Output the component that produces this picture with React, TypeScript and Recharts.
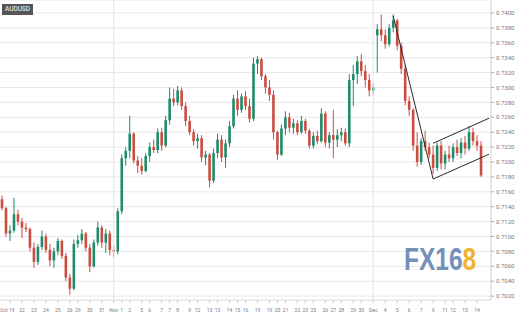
import React from "react";
import { ComposedChart, Bar, XAxis, YAxis, CartesianGrid, ReferenceLine } from "recharts";

// AUDUSD 4h candles, Oct 19 - Dec 14
const OPEN = [
  0.7150, 0.7138, 0.7104, 0.7108, 0.7130, 0.7120, 0.7112, 0.7110, 0.7085, 0.7066,
  0.7086, 0.7100, 0.7082, 0.7068, 0.7080, 0.7094, 0.7074, 0.7045, 0.7030, 0.7090,
  0.7095, 0.7104, 0.7085, 0.7060, 0.7092, 0.7112, 0.7092, 0.7104, 0.7082, 0.7080,
  0.7134, 0.7205, 0.7215, 0.7238, 0.7202, 0.7195, 0.7188, 0.7208, 0.7220, 0.7216,
  0.7240, 0.7222, 0.7256, 0.7285, 0.7280, 0.7296, 0.7275, 0.7255, 0.7240, 0.7228,
  0.7232, 0.7206, 0.7210, 0.7175, 0.7212, 0.7230, 0.7206, 0.7225, 0.7248, 0.7285,
  0.7270, 0.7288, 0.7275, 0.7258, 0.7332, 0.7338, 0.7315, 0.7300, 0.7290, 0.7240,
  0.7210, 0.7245, 0.7260, 0.7246, 0.7252, 0.7240, 0.7255, 0.7242, 0.7222, 0.7235,
  0.7228, 0.7265, 0.7226, 0.7236, 0.7230, 0.7236, 0.7240, 0.7225, 0.7310, 0.7318,
  0.7335, 0.7322, 0.7310, 0.7296, 0.7370, 0.7378, 0.7370, 0.7358, 0.7380, 0.7390,
  0.7356, 0.7325, 0.7282, 0.7270, 0.7222, 0.7200, 0.7228, 0.7220, 0.7210, 0.7192,
  0.7222, 0.7198, 0.7210, 0.7205, 0.7220, 0.7212, 0.7226, 0.7218, 0.7240, 0.7228,
  0.7222,
];
const HIGH = [
  0.7155, 0.7140, 0.7115, 0.7152, 0.7136, 0.7125, 0.7118, 0.7112, 0.7092, 0.7090,
  0.7108, 0.7104, 0.7090, 0.7085, 0.7098, 0.7096, 0.7078, 0.7050, 0.7096, 0.7102,
  0.7110, 0.7106, 0.7090, 0.7096, 0.7120, 0.7115, 0.7110, 0.7108, 0.7088, 0.7138,
  0.7210, 0.7220, 0.7262, 0.7240, 0.7208, 0.7205, 0.7212, 0.7226, 0.7230, 0.7245,
  0.7246, 0.7262, 0.7300, 0.7298, 0.7302, 0.7300, 0.7280, 0.7262, 0.7244, 0.7238,
  0.7236, 0.7215, 0.7212, 0.7218, 0.7238, 0.7236, 0.7230, 0.7255, 0.7290, 0.7296,
  0.7292, 0.7295, 0.7285, 0.7340, 0.7342, 0.7340, 0.7318, 0.7310, 0.7296, 0.7242,
  0.7250, 0.7268, 0.7266, 0.7258, 0.7256, 0.7262, 0.7258, 0.7244, 0.7240, 0.7242,
  0.7272, 0.7268, 0.7240, 0.7270, 0.7244, 0.7246, 0.7245, 0.7318, 0.7330, 0.7342,
  0.7345, 0.7330, 0.7318, 0.7305, 0.7385, 0.7398, 0.7378, 0.7385, 0.7398, 0.7392,
  0.7360, 0.7330, 0.7288, 0.7272, 0.7240, 0.7232, 0.7242, 0.7226, 0.7222, 0.7226,
  0.7228, 0.7215, 0.7222, 0.7225, 0.7230, 0.7232, 0.7235, 0.7248, 0.7246, 0.7236,
  0.7228,
];
const LOW = [
  0.7135, 0.7100, 0.7094, 0.7105, 0.7115, 0.7098, 0.7106, 0.7080, 0.7058, 0.7062,
  0.7082, 0.7078, 0.7060, 0.7058, 0.7075, 0.7070, 0.7040, 0.7022, 0.7028, 0.7085,
  0.7090, 0.7080, 0.7052, 0.7058, 0.7088, 0.7085, 0.7078, 0.7075, 0.7072, 0.7076,
  0.7130, 0.7195, 0.7205, 0.7198, 0.7185, 0.7183, 0.7186, 0.7200, 0.7212, 0.7212,
  0.7215, 0.7220, 0.7250, 0.7275, 0.7276, 0.7270, 0.7248, 0.7236, 0.7222, 0.7218,
  0.7200, 0.7196, 0.7166, 0.7172, 0.7205, 0.7200, 0.7192, 0.7220, 0.7245, 0.7262,
  0.7266, 0.7270, 0.7253, 0.7255, 0.7318, 0.7310, 0.7292, 0.7282, 0.7230, 0.7203,
  0.7208, 0.7236, 0.7240, 0.7238, 0.7236, 0.7238, 0.7238, 0.7218, 0.7218, 0.7224,
  0.7226, 0.7220, 0.7218, 0.7205, 0.7220, 0.7228, 0.7222, 0.7220, 0.7275, 0.7305,
  0.7315, 0.7300, 0.7288, 0.7290, 0.7320, 0.7362, 0.7352, 0.7355, 0.7374, 0.7350,
  0.7318, 0.7276, 0.7262, 0.7215, 0.7194, 0.7196, 0.7215, 0.7205, 0.7184, 0.7188,
  0.7190, 0.7190, 0.7200, 0.7200, 0.7208, 0.7205, 0.7210, 0.7215, 0.7222, 0.7215,
  0.7180,
];
const CLOSE = [
  0.7138, 0.7104, 0.7108, 0.7130, 0.7120, 0.7112, 0.7110, 0.7085, 0.7066, 0.7086,
  0.7100, 0.7082, 0.7068, 0.7080, 0.7094, 0.7074, 0.7045, 0.7030, 0.7090, 0.7095,
  0.7104, 0.7085, 0.7060, 0.7092, 0.7112, 0.7092, 0.7104, 0.7082, 0.7080, 0.7134,
  0.7205, 0.7215, 0.7238, 0.7202, 0.7195, 0.7188, 0.7208, 0.7220, 0.7216, 0.7240,
  0.7222, 0.7256, 0.7285, 0.7280, 0.7296, 0.7275, 0.7255, 0.7240, 0.7228, 0.7232,
  0.7206, 0.7210, 0.7175, 0.7212, 0.7230, 0.7206, 0.7225, 0.7248, 0.7285, 0.7270,
  0.7288, 0.7275, 0.7258, 0.7332, 0.7338, 0.7315, 0.7300, 0.7290, 0.7240, 0.7210,
  0.7245, 0.7260, 0.7246, 0.7252, 0.7240, 0.7255, 0.7242, 0.7222, 0.7235, 0.7228,
  0.7265, 0.7226, 0.7236, 0.7230, 0.7236, 0.7240, 0.7225, 0.7310, 0.7318, 0.7335,
  0.7322, 0.7310, 0.7296, 0.7300, 0.7378, 0.7370, 0.7358, 0.7380, 0.7390, 0.7356,
  0.7325, 0.7282, 0.7270, 0.7222, 0.7200, 0.7228, 0.7220, 0.7210, 0.7192, 0.7222,
  0.7198, 0.7210, 0.7205, 0.7220, 0.7212, 0.7226, 0.7218, 0.7240, 0.7228, 0.7222,
  0.7182,
];

// candle slots on the x axis (two empty ones at the right edge)
const SLOTS = 123;

const TICK_IDX = [
  2, 5, 8, 11, 14, 17, 19, 22, 25, 28, 30, 32, 35, 37, 40, 42, 44, 47, 49, 52, 54, 57, 59,
  61, 64, 67, 69, 71, 74, 76, 78, 81, 83, 85, 88, 90, 93, 96, 99, 102, 105, 108, 111, 113,
  116, 119,
];
const TICK_LABELS = [
  "Oct 19", "22", "23", "24", "25", "26", "29", "30", "31", "Nov", "1", "2", "5", "6", "7",
  "7", "8", "9", "12", "13", "13", "14", "15", "16", "19", "19", "20", "21", "22", "23",
  "25", "26", "27", "28", "29", "30", "Dec", "4", "5", "6", "7", "9", "11", "12", "13", "14",
];
const Y_TICKS = [
  0.702, 0.704, 0.706, 0.708, 0.71, 0.712, 0.714, 0.716, 0.718, 0.72, 0.722, 0.724, 0.726,
  0.728, 0.73, 0.732, 0.734, 0.736, 0.738, 0.74,
];
const MONTH_STARTS = [28, 93];

// hand drawn trend lines: [index, price]
const DROP_LINE = [[98, 0.7396], [108, 0.71772]];
const CHANNEL_LOW = [[108, 0.71772], [122, 0.72104]];
const CHANNEL_HIGH = [[108, 0.72251], [122, 0.72587]];

const UP = "#1f8a6c";
const DOWN = "#cc4c40";

const data = Array.from({ length: SLOTS }, (_, i) =>
  i < OPEN.length ? { i, o: OPEN[i], h: HIGH[i], l: LOW[i], c: CLOSE[i] } : { i }
);

const labelAt: Record<number, string> = {};
TICK_IDX.forEach((k, j) => (labelAt[k] = TICK_LABELS[j]));

function Candle(props: any) {
  const { x, y, width, height, payload } = props;
  if (payload.h == null) return null;
  const { o, h, l, c } = payload;
  const top = Math.min(y, y + height);
  const span = Math.abs(height);
  const k = span / (h - l || 1);
  const yo = top + (h - o) * k;
  const yc = top + (h - c) * k;
  const color = c >= o ? UP : DOWN;
  const cx = x + width / 2;
  const bw = 2.6;
  return (
    <g>
      <line x1={cx} x2={cx} y1={top} y2={top + span} stroke={color} strokeWidth={1} />
      <rect
        x={cx - bw / 2}
        y={Math.min(yo, yc)}
        width={bw}
        height={Math.max(Math.abs(yo - yc), 1)}
        fill={color}
      />
    </g>
  );
}

// first label hugs the left edge like the original
function XTick({ x, y, payload }: any) {
  const first = payload.value === TICK_IDX[0];
  return (
    <text
      x={first ? 0 : x}
      y={y + 7}
      textAnchor={first ? "start" : "middle"}
      fontSize={5}
      fill="#7a7a7a"
      fontFamily="Roboto"
    >
      {labelAt[payload.value] ?? ""}
    </text>
  );
}

const seg = (s: number[][]) => s.map(([x, y]) => ({ x, y }));

export default function App() {
  return (
    <div
      style={{
        position: "absolute",
        left: 0,
        top: 0,
        width: 515,
        height: 318,
        background: "#fff",
        fontFamily: "Roboto, sans-serif",
      }}
    >
      <ComposedChart
        width={515}
        height={318}
        data={data}
        margin={{ top: 0, right: 0, bottom: 0, left: 0 }}
      >
        <CartesianGrid vertical={false} stroke="#e8e8e8" />
        <XAxis
          dataKey="i"
          type="category"
          ticks={TICK_IDX}
          interval={0}
          height={18}
          tickSize={3}
          tick={<XTick />}
          tickLine={{ stroke: "#c8c8c8" }}
          axisLine={{ stroke: "#e0e0e0" }}
        />
        <YAxis
          orientation="right"
          domain={[0.70148, 0.74174]}
          allowDataOverflow
          ticks={Y_TICKS}
          interval={0}
          tickFormatter={(v) => v.toFixed(4)}
          width={24}
          tickSize={3}
          tick={{ fontSize: 6, fill: "#7a7a7a", fontFamily: "Roboto" }}
          tickLine={{ stroke: "#b0b0b0" }}
          axisLine={{ stroke: "#d0d0d0" }}
        />
        {MONTH_STARTS.map((m) => (
          <ReferenceLine key={m} x={m} stroke="#e4e4e4" />
        ))}
        <Bar
          dataKey={(d: any) => (d.h == null ? null : [d.l, d.h])}
          barSize={2}
          shape={<Candle />}
          isAnimationActive={false}
        />
        <ReferenceLine segment={seg(DROP_LINE)} stroke="#2a2a2a" strokeWidth={1} />
        <ReferenceLine segment={seg(CHANNEL_LOW)} stroke="#2a2a2a" strokeWidth={1} />
        <ReferenceLine segment={seg(CHANNEL_HIGH)} stroke="#2a2a2a" strokeWidth={1} />
      </ComposedChart>
      <div
        style={{
          position: "absolute",
          left: 2,
          top: 4,
          width: 31,
          height: 11,
          background: "#555",
          color: "#fff",
          fontSize: 6.5,
          lineHeight: "11px",
          textAlign: "center",
        }}
      >
        AUDUSD
      </div>
      <div
        style={{
          position: "absolute",
          left: 404,
          top: 243,
          fontSize: 32,
          lineHeight: "32px",
          fontWeight: 700,
          fontFamily: "Liberation Sans, Arial, sans-serif",
          whiteSpace: "nowrap",
          transform: "scaleX(0.765)",
          transformOrigin: "left top",
        }}
      >
        <span style={{ color: "#7391b8" }}>FX16</span>
        <span style={{ color: "#efb530" }}>8</span>
      </div>
    </div>
  );
}
